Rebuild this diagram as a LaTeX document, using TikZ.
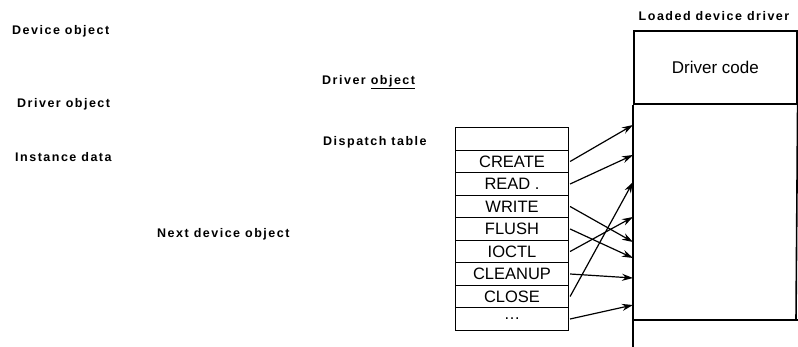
\documentclass[tikz,border=0pt]{standalone}
\usepackage{fontspec}
\setmainfont{Liberation Sans}
\usetikzlibrary{arrows.meta}

\tikzset{
  lbl/.style={anchor=west, inner sep=0pt, font=\bfseries\fontsize{12.5}{14}\selectfont\addfontfeatures{LetterSpace=12}},
  slot/.style={draw, line width=1.2pt, minimum width=113pt, minimum height=22.5pt, inner sep=0pt, font=\fontsize{16.5}{18}\selectfont},
  ptr/.style={-{Stealth[length=11pt,width=7pt]}, line width=1.2pt},
  boxline/.style={line width=1.6pt}
}

\begin{document}
\begin{tikzpicture}[x=1pt,y=-1pt]
    \useasboundingbox (0,0) rectangle (798,347);

    % Labels
    \node[lbl] (devobj) at (12,31) {Device object};
    \node[lbl] (drvobj) at (17,104) {Driver object};
    \node[lbl] (inst) at (15,157) {Instance data};
    \node[lbl] (nextdev) at (157,234) {Next device object};
    \node[lbl] (drvobjtab) at (322,82) {Driver \underline{object}};
    \node[lbl] (disp) at (323,142) {Dispatch table};

    % Dispatch table
    \foreach \name [count=\i from 0] in {{},CREATE,READ .,WRITE,FLUSH,IOCTL,CLEANUP,CLOSE,{\ldots}}
        \node[slot] (r\i) at (512,139+22.5*\i) {\name};

    % Loaded device driver
    \node[lbl, anchor=center] (title) at (714,16) {Loaded device driver};
    \node[draw, boxline, anchor=north west, minimum width=163pt, minimum height=73pt, inner sep=0pt,
          font=\fontsize{17}{19}\selectfont] (code) at (633,30) {Driver code};
    \coordinate (lowL) at (633,347);
    \coordinate (baseL) at (633,320);
    \coordinate (baseR) at (798,320);
    \coordinate (sideR) at (796,320);
    \draw[boxline] (code.south west) -- (lowL);
    \draw[boxline] (code.south east) -- (sideR);
    \draw[boxline] (baseL) -- (baseR);

    % Entry points
    \foreach \y [count=\k] in {125,155,182,217,242,258,278,305}
        \coordinate (d\k) at (633,\y);

    % Pointers
    \foreach \s/\t in {1/1,2/2,3/5,4/6,5/4,6/7,7/3,8/8}
        \draw[ptr] ([xshift=1pt]r\s.east) -- (d\t);

\end{tikzpicture}
\end{document}
